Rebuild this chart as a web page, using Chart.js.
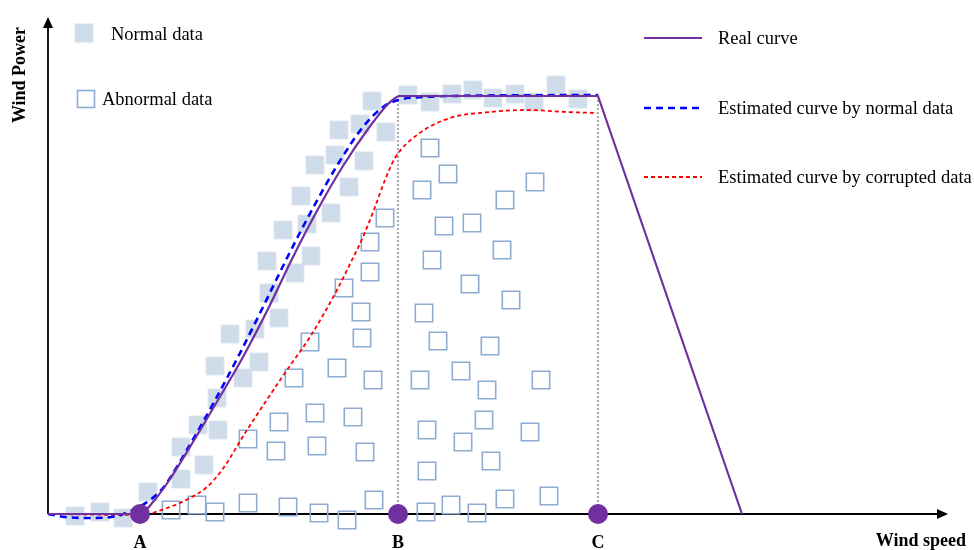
<!DOCTYPE html>
<html>
<head>
<meta charset="utf-8">
<script src="https://cdn.jsdelivr.net/npm/chart.js@4.4.1/dist/chart.umd.min.js"></script>
<style>
html,body{margin:0;padding:0;background:#ffffff;}
canvas{display:block;}
</style>
</head>
<body>
<canvas id="c" width="974" height="550"></canvas>
<script>
// ---- Data (wind speed on x, wind power on y; schematic units) ----
const keyPointLabels = ['A', 'B', 'C'];
const keyPointSpeeds = [92, 350, 550];

const normalData = [
  [27,-2],[52,2],[75,-4],[100,22],[133,35],[156,49],[133,67],[170,84],[150,89],[169,116],
  [195,136],[167,148],[211,152],[182,180],[207,185],[231,196],[221,221],[247,241],[219,253],
  [263,258],[235,284],[259,290],[283,301],[253,318],[301,327],[267,349],[287,359],[316,353],
  [291,384],[312,390],[338,382],[324,413],[360,419],[382,412],[404,420],[425,424],[445,416],
  [467,420],[486,412],[508,429],[530,415]
];

const abnormalData = [
  [123,4],[149,9],[167,2],[200,11],[240,7],[271,1],[299,-6],[326,14],[378,2],[403,9],[429,1],
  [457,15],[501,18],
  [200,75],[228,63],[269,68],[231,92],[267,101],[305,97],[317,62],[246,136],[289,146],[325,134],
  [262,172],[314,176],[313,202],[296,226],[322,242],[322,272],[337,296],
  [382,366],[400,340],[374,324],[487,332],[457,314],[396,288],[424,291],[454,264],[384,254],
  [422,230],[463,214],[376,201],[390,173],[442,168],[413,143],[372,134],[439,124],[493,134],
  [436,94],[379,84],[415,72],[482,82],[443,53],[379,43]
];

const realCurveRise = [
  [0,0],[92,0],[105,12],[120,32],[145,72],[170,114],[195,157],[220,205],[245,257],
  [270,305],[295,348],[320,385],[340,410],[350,418]
];
const realCurveTop = [[350,418],[550,418],[694,0]];

const normalEstimate = [
  [0,0],[17,-3],[42,-4],[69,-2],[85,4],[102,14],[115,26],[140,66],[165,110],[190,157],
  [215,207],[240,258],[265,306],[290,350],[315,387],[335,407],[350,414],[375,417],[402,418],[550,419]
];

const corruptedEstimate = [
  [0,0],[92,-1],[119,6],[142,16],[159,27],[174,44],[199,84],[239,144],[262,177],[289,224],
  [302,250],[315,277],[327,307],[337,334],[347,356],[369,379],[402,396],[442,402],[479,404],
  [519,402],[549,401]
];

const ratedPower = 418;

// ---- helpers ----
const pts = arr => arr.map(p => ({x: p[0], y: p[1]}));
const SERIF = '"Liberation Serif", "Times New Roman", serif';
const PURPLE = '#7030a0';

const lineBase = {showLine: true, pointRadius: 0, pointHoverRadius: 0, clip: false, fill: false};

const datasets = [
  {
    label: 'Key points',
    data: keyPointSpeeds.map(x => ({x, y: 0})),
    pointStyle: 'circle', pointRadius: 10, pointHoverRadius: 10,
    backgroundColor: PURPLE, borderColor: PURPLE, borderWidth: 0, clip: false
  },
  Object.assign({}, lineBase, {
    label: 'Real curve', data: pts(realCurveRise),
    borderColor: PURPLE, borderWidth: 2.2, cubicInterpolationMode: 'monotone'
  }),
  Object.assign({}, lineBase, {
    label: 'Real curve (rated)', data: pts(realCurveTop),
    borderColor: PURPLE, borderWidth: 2.2, tension: 0
  }),
  Object.assign({}, lineBase, {
    label: 'Estimated curve by normal data', data: pts(normalEstimate),
    borderColor: '#0000ff', borderWidth: 2.6, borderDash: [7, 5], cubicInterpolationMode: 'monotone'
  }),
  Object.assign({}, lineBase, {
    label: 'Estimated curve by corrupted data', data: pts(corruptedEstimate),
    borderColor: '#ff0000', borderWidth: 1.8, borderDash: [4, 3], cubicInterpolationMode: 'monotone'
  }),
  Object.assign({}, lineBase, {
    label: 'B guide', data: [{x: keyPointSpeeds[1], y: 0}, {x: keyPointSpeeds[1], y: ratedPower}],
    borderColor: '#8c8c8c', borderWidth: 1.5, borderDash: [2, 2], tension: 0
  }),
  Object.assign({}, lineBase, {
    label: 'C guide', data: [{x: keyPointSpeeds[2], y: 0}, {x: keyPointSpeeds[2], y: ratedPower}],
    borderColor: '#8c8c8c', borderWidth: 1.5, borderDash: [2, 2], tension: 0
  }),
  {
    label: 'Normal data', data: pts(normalData),
    pointStyle: 'rect', pointRadius: 12.6, pointHoverRadius: 12.6,
    backgroundColor: '#cfdcea', borderColor: '#d8e2ee', borderWidth: 1, clip: false
  },
  {
    label: 'Abnormal data', data: pts(abnormalData),
    pointStyle: 'rect', pointRadius: 12.3, pointHoverRadius: 12.3,
    backgroundColor: 'rgba(255,255,255,0)', borderColor: '#8eabd2', borderWidth: 1.6, clip: false
  }
];

const decor = {
  id: 'decor',
  beforeDatasetsDraw(chart) {
    const ctx = chart.ctx, xs = chart.scales.x, ys = chart.scales.y;
    const x0 = xs.getPixelForValue(0), y0 = ys.getPixelForValue(0);
    const xEnd = xs.getPixelForValue(xs.max), yEnd = ys.getPixelForValue(ys.max - 3);
    ctx.save();
    ctx.strokeStyle = '#000'; ctx.fillStyle = '#000'; ctx.lineWidth = 1.8;
    ctx.beginPath(); ctx.moveTo(x0, y0); ctx.lineTo(xEnd - 8, y0); ctx.stroke();
    ctx.beginPath(); ctx.moveTo(x0, y0); ctx.lineTo(x0, yEnd + 8); ctx.stroke();
    ctx.beginPath(); ctx.moveTo(xEnd, y0); ctx.lineTo(xEnd - 11, y0 - 5); ctx.lineTo(xEnd - 11, y0 + 5); ctx.closePath(); ctx.fill();
    ctx.beginPath(); ctx.moveTo(x0, yEnd); ctx.lineTo(x0 - 5, yEnd + 11); ctx.lineTo(x0 + 5, yEnd + 11); ctx.closePath(); ctx.fill();
    ctx.restore();
  },
  afterDraw(chart) {
    const ctx = chart.ctx, xs = chart.scales.x, ys = chart.scales.y;
    const y0 = ys.getPixelForValue(0);
    ctx.save();
    ctx.fillStyle = '#000';
    // key point letters
    ctx.font = 'bold 18px ' + SERIF;
    ctx.textAlign = 'center'; ctx.textBaseline = 'middle';
    keyPointLabels.forEach((l, i) => ctx.fillText(l, xs.getPixelForValue(keyPointSpeeds[i]), y0 + 29));
    // axis titles
    ctx.textAlign = 'right';
    ctx.fillText('Wind speed', xs.getPixelForValue(xs.max) + 18, y0 + 27);
    ctx.save();
    ctx.translate(20, 75); ctx.rotate(-Math.PI / 2);
    ctx.textAlign = 'center';
    ctx.fillText('Wind Power', 0, 0);
    ctx.restore();

    // legends (top-left: markers)
    ctx.font = '18.5px ' + SERIF;
    ctx.textAlign = 'left';
    ctx.fillStyle = '#cfdcea'; ctx.strokeStyle = '#d8e2ee'; ctx.lineWidth = 1;
    ctx.fillRect(75, 24, 18, 18); ctx.strokeRect(75, 24, 18, 18);
    ctx.fillStyle = '#000';
    ctx.fillText('Normal data', 111, 35);
    ctx.strokeStyle = '#8eabd2'; ctx.lineWidth = 1.6;
    ctx.strokeRect(77.5, 90.5, 17, 17);
    ctx.fillText('Abnormal data', 102, 100);

    // legends (right: curves)
    const items = [
      {t: 'Real curve', c: PURPLE, w: 2.2, d: [], y: 38},
      {t: 'Estimated curve by normal data', c: '#0000ff', w: 2.4, d: [7, 5], y: 108},
      {t: 'Estimated curve by corrupted data', c: '#ff0000', w: 1.8, d: [4, 3], y: 177}
    ];
    items.forEach(it => {
      ctx.strokeStyle = it.c; ctx.lineWidth = it.w; ctx.setLineDash(it.d);
      ctx.beginPath(); ctx.moveTo(644, it.y); ctx.lineTo(702, it.y); ctx.stroke();
      ctx.setLineDash([]);
      ctx.fillStyle = '#000';
      ctx.fillText(it.t, 718, it.y + 1);
    });
    ctx.restore();
  }
};

new Chart(document.getElementById('c'), {
  type: 'scatter',
  data: {datasets},
  options: {
    responsive: false,
    animation: false,
    devicePixelRatio: 1,
    events: [],
    layout: {padding: {left: 48, right: 26, top: 14, bottom: 36}},
    scales: {
      x: {type: 'linear', min: 0, max: 900, display: false},
      y: {type: 'linear', min: 0, max: 500, display: false}
    },
    plugins: {legend: {display: false}, tooltip: {enabled: false}, title: {display: false}}
  },
  plugins: [decor]
});
</script>
</body>
</html>
